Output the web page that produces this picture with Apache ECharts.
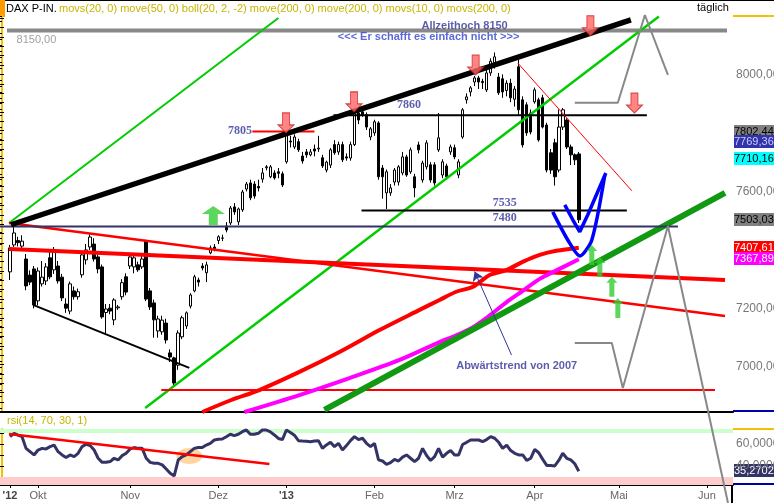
<!DOCTYPE html>
<html><head><meta charset="utf-8">
<script src="https://cdn.jsdelivr.net/npm/echarts/dist/echarts.min.js"></script>
<style>html,body{margin:0;padding:0;background:#fff}#c{width:774px;height:503px}</style>
</head><body><div id="c"></div>
<script>
// ---------- categories (Xetra trading days) ----------
const firstCategoryDate = '2012-09-18';
const categoryCount = 183;
const closedDays = ['2012-12-24','2012-12-25','2012-12-26','2012-12-31','2013-01-01','2013-03-29','2013-04-01','2013-05-01'];
const monthLabels = {'2012-10':'Okt','2012-11':'Nov','2012-12':'Dez','2013-01':"'13",'2013-02':'Feb','2013-03':'Mrz','2013-04':'Apr','2013-05':'Mai','2013-06':'Jun'};
const yearLabel = {date:'2012-09-20', text:"'12"};

// ---------- DAX daily candles from 2012-09-20 ----------
const candleStart = '2012-09-20';
const opens = [7325,7417,7432,7413,7369,7314,7335,7226,7284,7294,7373,7332,7345,7307,7215,7191,7260,7240,7315,7366,7410,7420,7376,7342,7186,7201,7161,7202,7240,7308,7345,7342,7349,7342,7430,7260,7219,7123,7120,7150,7048,7031,7006,7103,7140,7208,7260,7297,7345,7322,7390,7410,7432,7440,7482,7492,7547,7496,7537,7608,7629,7625,7617,7642,7681,7650,7663,7667,7660,7701,7772,7752,7770,7721,7735,7725,7745,7745,7715,7673,7690,7760,7735,7760,7718,7714,7760,7868,7872,7862,7786,7800,7834,7680,7595,7595,7632,7632,7663,7718,7667,7650,7759,7639,7684,7691,7691,7742,7656,7687,7735,7749,7656,7786,7913,7940,7974,7988,7976,7947,8005,8040,7991,7985,7945,7970,7915,8026,7913,7896,7868,7906,7913,7920,7827,7732,7766,7673,7820,7844,7752,7725,7728];
const highs = [7417,7492,7445,7450,7386,7330,7345,7340,7362,7355,7395,7410,7362,7318,7235,7292,7275,7268,7395,7420,7455,7440,7385,7350,7215,7215,7235,7212,7300,7320,7385,7390,7360,7380,7435,7270,7230,7175,7175,7165,7060,7035,7125,7175,7190,7252,7315,7305,7355,7360,7415,7420,7450,7452,7495,7550,7560,7545,7605,7632,7640,7635,7640,7680,7690,7690,7672,7680,7668,7805,7790,7795,7780,7735,7745,7745,7760,7790,7725,7705,7748,7775,7770,7770,7730,7770,7872,7880,7885,7870,7820,7845,7840,7690,7675,7625,7680,7690,7735,7725,7750,7660,7770,7705,7775,7700,7700,7868,7710,7695,7760,7760,7710,7885,7935,7960,7995,7995,7985,8015,8055,8075,8005,8000,7980,7985,7960,8050,7925,7905,7880,7955,7920,7930,7835,7745,7780,7880,7885,7850,7760,7730,7735];
const lows = [7297,7410,7412,7405,7262,7280,7200,7210,7275,7280,7300,7318,7285,7225,7185,7180,7230,7230,7305,7350,7400,7360,7320,7165,7115,7180,7143,7195,7230,7245,7335,7320,7325,7335,7225,7195,7100,7100,7110,7080,7017,6932,6990,7095,7130,7200,7255,7275,7330,7290,7385,7395,7420,7430,7460,7485,7520,7485,7530,7600,7570,7575,7600,7630,7672,7645,7640,7645,7615,7695,7750,7745,7735,7695,7715,7720,7720,7735,7680,7665,7680,7725,7725,7700,7705,7705,7755,7830,7855,7810,7775,7790,7640,7575,7540,7585,7620,7620,7655,7650,7660,7580,7730,7630,7675,7630,7620,7735,7645,7640,7725,7710,7645,7780,7900,7925,7960,7950,7950,7940,7995,8020,7930,7920,7925,7905,7890,7862,7750,7790,7795,7900,7770,7815,7665,7660,7620,7665,7810,7745,7690,7690,7492];
const closes = [7407,7458,7425,7430,7277,7290,7212,7328,7307,7342,7308,7400,7294,7236,7201,7284,7240,7257,7383,7400,7444,7369,7335,7171,7198,7191,7229,7205,7288,7256,7376,7373,7332,7369,7232,7205,7161,7164,7160,7092,7034,6945,7116,7168,7185,7246,7308,7290,7338,7349,7407,7405,7445,7441,7468,7543,7530,7540,7598,7625,7578,7584,7612,7663,7684,7684,7646,7662,7622,7800,7769,7786,7742,7704,7725,7735,7738,7748,7687,7700,7742,7732,7760,7708,7714,7760,7868,7844,7862,7820,7814,7838,7650,7650,7667,7612,7673,7684,7718,7656,7742,7612,7742,7697,7766,7639,7629,7783,7701,7650,7752,7718,7701,7879,7923,7954,7988,7974,7972,8005,8045,8060,7937,7940,7970,7920,7950,7879,7759,7800,7803,7947,7776,7820,7673,7673,7650,7820,7879,7752,7725,7708,7503.03];
// RSI(14) from 2012-09-20
const rsiValues = [66.6,69.7,68,66.6,56,53,50,54.5,56,55.5,57.6,59,53,50,47.6,50,48.5,51.5,57.6,59.7,58.5,54.5,47,43.3,43.3,44,47,45.5,49.4,51.5,55.5,56.7,56,56,47,43.3,42.4,42.4,41,37.3,33.3,30.9,45.5,48.5,50,53,56,56.7,56.7,59,60.6,63.6,64.2,64.5,66.6,68.8,67.6,68.8,71.2,72.7,68.8,68.8,69.7,72.7,72.7,71,68.2,65,64,72.7,70.5,68,63,62.7,62.5,62.1,62.7,63,56,59.1,61.5,57.6,60.6,54.5,58.5,63,66.7,64,65.2,60.6,57.6,60.6,45.5,44.5,41.5,43,46,44.5,48,50,47,44,47,56,49.5,45,48.5,56,48,51.5,54,50,50,59.5,61.5,63.6,63.6,63.6,62.1,64,66.7,65.2,61.5,56,59,54,51.5,50,50,45,47,55,52,46,40.5,40.5,40,45,51.5,47,45.5,42,35.27];

// moving averages [category index, value]
const ma200Red = [[50,6846],[57.25,6887],[64.25,6921],[74.25,6983],[84.25,7051],[94.25,7126],[104.25,7195],[109.25,7229],[113.4,7257],[117.6,7274],[121.75,7314],[125.9,7331],[130.1,7360],[134.25,7383],[138.4,7397],[144,7407.61]];
const ma200Magenta = [[60.5,6846],[74.25,6904],[86.75,6962],[99.25,7024],[109.25,7085],[113.4,7108],[117.6,7136],[121.75,7176],[125.9,7221],[130.1,7261],[134.25,7301],[138.4,7330],[144,7367.89]];

// drawn trend lines / levels [category index, price]
const trendBlack = [[2.25,7486],[157,8186]];
const channelGreenUpper = [[1.75,7492],[69,8193]];
const channelGreenLower = [[35.75,6860],[164,8198]];
const trendDarkGreen = [[80.5,6853],[180.5,7595]];
const downtrend2007 = [[1.75,7403],[180.5,7297]];
const downtrendRed2 = [[1.75,7492],[180.5,7174]];
const wedgeBlack = [[7.75,7212],[46.75,6997]];
const shortDownRed = [[128.75,8039],[157.25,7602]];
const levelRedLow = [[39.75,6921],[178,6921]];
const level8150 = [[1.25,8150],[181,8150]];
const level7860 = [[82.75,7860],[161,7860]];
const level7535 = [[89.75,7535],[156,7535]];
const level7480 = [[-0.5,7480],[168.75,7480]];
const level7805 = [[62.5,7805],[78,7805]];
const blueOuter = [[137.5,7530],[141.25,7434],[144.25,7379],[147.25,7434],[150.5,7656]];
const blueInner = [[140.5,7554],[142.5,7503],[144.25,7462],[146.25,7520],[150.75,7663]];
const grayUpper = [[143,7903],[153.75,7903],[160.5,8203],[166.25,7998]];
const grayLower = [[143,7082],[152.25,7082],[155,6928],[166.25,7482],[181.25,6535]];
const pointerArrow = [[127.2,7041],[118,7326]];
const redArrows = [[70.9,7800],[87.9,7872],[118.25,7998],[146.9,8132],[157.9,7868]];
const greenArrowBig = [[52.75,7550]];
const greenArrowsSmall = [[147.25,7417],[149.25,7376],[152.25,7308],[153.75,7236]];
const rsiTrend = [[1.75,69.1],[66.75,41.8]];
const rsiHighlight = [[46.75,49]];

// axis tick labels and value tags
const priceLabels = [7000,7200,7600,8000];
const rsiLabels = [40,60];
const priceTags = [
  {v:7802.44, bg:'#808080', fg:'#000'},
  {v:7769.36, bg:'#3333aa', fg:'#c8d0ff'},
  {v:7710.16, bg:'#00ffff', fg:'#000'},
  {v:7503.03, bg:'#808080', fg:'#000'},
  {v:7407.61, bg:'#ff0000', fg:'#fff'},
  {v:7367.89, bg:'#ff00ff', fg:'#fff'}
];
const rsiTag = {v:35.2702, bg:'#333366', fg:'#fff'};

const annotations = [
  {text:'Allzeithoch 8150', at:[115.5,8166], kind:'title'},
  {text:'<<< Er schafft es einfach nicht >>>', at:[106.5,8127], kind:'sub'},
  {text:'8150,00', at:[8.6,8118], kind:'gray'},
  {text:'7805', at:[59.4,7807], kind:'level'},
  {text:'7860', at:[101.6,7896], kind:'level'},
  {text:'7535', at:[125.5,7561], kind:'level'},
  {text:'7480', at:[125.5,7509], kind:'level'},
  {text:'Abwärtstrend von 2007', at:[128.5,7003], kind:'title'}
];

// ---------- build ----------
function buildTradingDays(startIso, count){
  const out=[]; const d=new Date(startIso+'T12:00:00Z');
  while(out.length<count){
    const dow=d.getUTCDay(); const iso=d.toISOString().slice(0,10);
    if(dow!==0&&dow!==6&&closedDays.indexOf(iso)<0) out.push(iso);
    d.setUTCDate(d.getUTCDate()+1);
  }
  return out;
}
const dates = buildTradingDays(firstCategoryDate, categoryCount);
const startIdx = dates.indexOf(candleStart);
const candleData = dates.map((d,i)=>{
  const k=i-startIdx;
  if(k<0||k>=closes.length) return '-';
  return [opens[k],closes[k],lows[k],highs[k]];
});
const rsiData = dates.map((d,i)=>{const k=i-startIdx; return (k<0||k>=rsiValues.length)?'-':rsiValues[k];});
function labelFor(i){
  const d=dates[i];
  if(d===yearLabel.date) return yearLabel.text;
  const m=d.slice(0,7);
  if(i>0 && dates[i-1].slice(0,7)!==m && monthLabels[m]) return monthLabels[m];
  return null;
}
const FONT='"Liberation Sans", Arial, sans-serif';
const fmt=(v,n)=>v.toFixed(n).replace('.',',');
function range(a,b,s){const r=[];for(let v=a;v<=b+1e-9;v+=s)r.push(v);return r;}

function seg(data,color,width,extra){
  return Object.assign({type:'line',xAxisIndex:1,yAxisIndex:0,data:data,symbol:'none',silent:true,
    lineStyle:{color:color,width:width},z:3},extra||{});
}
const annStyles = {
  title:{color:'#333399',fontWeight:'bold',fontSize:11,fontFamily:FONT},
  sub:{color:'#3344cc',fontWeight:'bold',fontSize:11,fontFamily:FONT},
  gray:{color:'#888888',fontSize:11,fontFamily:FONT},
  level:{color:'#333399',fontWeight:'bold',fontSize:12,fontFamily:'"Liberation Serif", "Times New Roman", serif'}
};
const downArrow='path://M4.5,0 L11.5,0 L11.5,12 L16,12 L8,20 L0,12 L4.5,12 Z';
const upArrowBig='path://M11.5,0 L23,8 L16,8 L16,19 L7,19 L7,8 L0,8 Z';
const upArrowSmall='path://M5.5,0 L11,6 L8,6 L8,20 L3,20 L3,6 L0,6 Z';

const baseGraphic = [
  {type:'rect',shape:{x:0,y:0,width:774,height:1},style:{fill:'#000'},silent:true},
  {type:'rect',shape:{x:0,y:0,width:5,height:17},style:{fill:'#ff9900'},silent:true},
  {type:'text',x:6,y:9,silent:true,style:{text:'DAX P-IN.',fill:'#000',fontSize:11,fontFamily:FONT,verticalAlign:'middle'}},
  {type:'text',x:59,y:9,silent:true,style:{text:'movs(20, 0) move(50, 0) boll(20, 2, -2) move(200, 0) move(200, 0) movs(10, 0) movs(200, 0)',fill:'#c8b400',fontSize:11,fontFamily:FONT,verticalAlign:'middle'}},
  {type:'text',x:697,y:8,silent:true,style:{text:'täglich',fill:'#000',fontSize:11,fontFamily:FONT,verticalAlign:'middle'}},
  {type:'text',x:7,y:421,silent:true,style:{text:'rsi(14, 70, 30, 1)',fill:'#c8b400',fontSize:11,fontFamily:FONT,verticalAlign:'middle'}},
  {type:'rect',shape:{x:733,y:15,width:41,height:2},style:{fill:'#f5c000'},silent:true},
  {type:'rect',shape:{x:733,y:410,width:41,height:2},style:{fill:'#0000aa'},silent:true},
  {type:'rect',shape:{x:733,y:428,width:41,height:2},style:{fill:'#f5c000'},silent:true},
  {type:'rect',shape:{x:733,y:483,width:41,height:2},style:{fill:'#0000aa'},silent:true},
  {type:'rect',shape:{x:731,y:485,width:2,height:18},style:{fill:'#000'},silent:true}
];

const option = {
  animation:false,
  backgroundColor:'#ffffff',
  textStyle:{fontFamily:FONT},
  grid:[
    {left:0,right:41,top:15,height:397,containLabel:false,outerBoundsMode:'none'},
    {left:0,right:41,top:429,height:56,containLabel:false,outerBoundsMode:'none'}
  ],
  xAxis:[
    {type:'category',gridIndex:0,data:dates,boundaryGap:true,axisLine:{lineStyle:{color:'#000',width:2}},axisTick:{show:false},axisLabel:{show:false},splitLine:{show:false}},
    {type:'value',gridIndex:0,min:-0.5,max:dates.length-0.5,show:false},
    {type:'category',gridIndex:1,data:dates,boundaryGap:true,
      axisLine:{lineStyle:{color:'#000',width:2}},
      axisTick:{show:true,alignWithLabel:true,length:3,interval:(i)=>labelFor(i)!==null,lineStyle:{color:'#000'}},
      axisLabel:{interval:(i)=>labelFor(i)!==null,formatter:(v,i)=>{const t=labelFor(i);if(!t)return '';return t.charAt(0)==="'"?'{y|'+t+'}':'{m|'+t+'}';},
        margin:5,rich:{y:{fontSize:11,fontWeight:'bold',color:'#444',fontFamily:FONT},m:{fontSize:11,color:'#666',fontFamily:FONT}}},
      splitLine:{show:false}},
    {type:'value',gridIndex:1,min:-0.5,max:dates.length-0.5,show:false}
  ],
  yAxis:[
    {type:'value',gridIndex:0,position:'right',min:6846,max:8203,
      axisLine:{show:true,lineStyle:{color:'#f5c000',width:2}},
      axisTick:{show:true,inside:true,length:4,customValues:range(6860,8200,20),lineStyle:{color:'#000'}},
      axisLabel:{customValues:priceLabels,formatter:v=>fmt(v,2),color:'#777',fontSize:12,margin:3,fontFamily:FONT},
      splitLine:{show:false}},
    {type:'value',gridIndex:0,position:'left',min:6846,max:8203,
      axisLine:{show:false},axisTick:{show:true,inside:true,length:4,customValues:range(6880,8200,32),lineStyle:{color:'#000'}},
      axisLabel:{show:false},splitLine:{show:false}},
    {type:'value',gridIndex:1,position:'right',min:22.7,max:73.6,
      axisLine:{show:true,lineStyle:{color:'#f5c000',width:2}},
      axisTick:{show:true,inside:true,length:4,customValues:[30,40,50,60,70],lineStyle:{color:'#000'}},
      axisLabel:{customValues:rsiLabels,formatter:v=>fmt(v,4),color:'#777',fontSize:12,margin:3,fontFamily:FONT},
      splitLine:{show:false}},
    {type:'value',gridIndex:1,position:'left',min:22.7,max:73.6,
      axisLine:{show:false},axisTick:{show:true,inside:true,length:4,customValues:[30,40,50,60,70],lineStyle:{color:'#000'}},
      axisLabel:{show:false},splitLine:{show:false}}
  ],
  series:[
    {type:'candlestick',xAxisIndex:0,yAxisIndex:0,data:candleData,barWidth:3,z:2,
      itemStyle:{color:'#ffffff',color0:'#000000',borderColor:'#000000',borderColor0:'#000000',borderWidth:1}},
    seg(level8150,'#888888',4),
    seg(channelGreenUpper,'#00cc00',2),
    seg(channelGreenLower,'#00cc00',2.5),
    seg(downtrend2007,'#ff0000',4),
    seg(downtrendRed2,'#ff0000',2.5),
    seg(levelRedLow,'#ff0000',2),
    seg(ma200Red,'#ff0000',4,{smooth:0.3}),
    seg(ma200Magenta,'#ff00ff',4,{smooth:0.3}),
    seg(trendDarkGreen,'#119911',6),
    seg(level7480,'#333366',2),
    seg(level7535,'#000000',2),
    seg(level7860,'#000000',2),
    seg(level7805,'#ff0000',2),
    seg(wedgeBlack,'#000000',2),
    seg(shortDownRed,'#ff0000',1),
    seg(trendBlack,'#000000',5.5),
    seg(grayUpper,'#888888',2,{clip:false}),
    seg(grayLower,'#888888',2,{clip:false}),
    seg(blueOuter,'#0000ff',3.5,{smooth:0.25}),
    seg(blueInner,'#0000ff',3.5),
    {type:'lines',coordinateSystem:'cartesian2d',xAxisIndex:1,yAxisIndex:0,silent:true,z:4,
      symbol:['none','arrow'],symbolSize:9,lineStyle:{color:'#333399',width:1,opacity:1},
      data:[{coords:pointerArrow}]},
    {type:'scatter',xAxisIndex:1,yAxisIndex:0,data:redArrows,symbol:downArrow,symbolSize:[16,20],symbolOffset:[0,'-50%'],silent:true,z:5,
      itemStyle:{color:'#ff6666',borderColor:'#cc2222',borderWidth:1}},
    {type:'scatter',xAxisIndex:1,yAxisIndex:0,data:greenArrowBig,symbol:upArrowBig,symbolSize:[23,19],symbolOffset:[0,'50%'],silent:true,z:5,
      itemStyle:{color:'#33cc33'}},
    {type:'scatter',xAxisIndex:1,yAxisIndex:0,data:greenArrowsSmall,symbol:upArrowSmall,symbolSize:[11,20],symbolOffset:[0,'50%'],silent:true,z:5,
      itemStyle:{color:'#33cc33'}},
    {type:'scatter',xAxisIndex:1,yAxisIndex:0,silent:true,z:6,symbolSize:1,itemStyle:{color:'rgba(0,0,0,0)'},
      data:annotations.map(a=>({value:a.at,label:Object.assign({show:true,position:'inside',formatter:a.text},annStyles[a.kind])}))},
    // RSI panel
    {type:'scatter',xAxisIndex:3,yAxisIndex:2,data:rsiHighlight,symbol:'circle',symbolSize:[26,16],silent:true,z:1,
      itemStyle:{color:'rgba(255,170,60,0.6)'}},
    {type:'line',xAxisIndex:2,yAxisIndex:2,data:rsiData,symbol:'none',silent:true,z:3,
      lineStyle:{color:'#333366',width:3},
      markArea:{silent:true,data:[[{yAxis:70,itemStyle:{color:'#ccffcc'}},{yAxis:73.6}],[{yAxis:22.7,itemStyle:{color:'#ffcccc'}},{yAxis:30}]]}},
    {type:'line',xAxisIndex:3,yAxisIndex:2,data:rsiTrend,symbol:'none',silent:true,z:4,lineStyle:{color:'#ff0000',width:2.5}}
  ],
  graphic: baseGraphic
};
const chart = echarts.init(document.getElementById('c'),null,{renderer:'canvas'});
chart.setOption(option);

// value tags on the right axes, placed through the axes' own scales
function tagGraphic(yAxisIndex, t, digits){
  const y = Math.round(chart.convertToPixel({yAxisIndex:yAxisIndex}, t.v));
  return {type:'group',silent:true,z:100,children:[
    {type:'rect',shape:{x:734,y:y-7,width:40,height:13},style:{fill:t.bg}},
    {type:'text',x:734,y:y,style:{text:fmt(t.v,digits),fill:t.fg,fontSize:11,fontFamily:FONT,verticalAlign:'middle'}}
  ]};
}
const tagGraphics = priceTags.map(t=>tagGraphic(0,t,2)).concat([tagGraphic(2,rsiTag,4)]);
chart.setOption({graphic: baseGraphic.concat(tagGraphics)});
</script></body></html>
